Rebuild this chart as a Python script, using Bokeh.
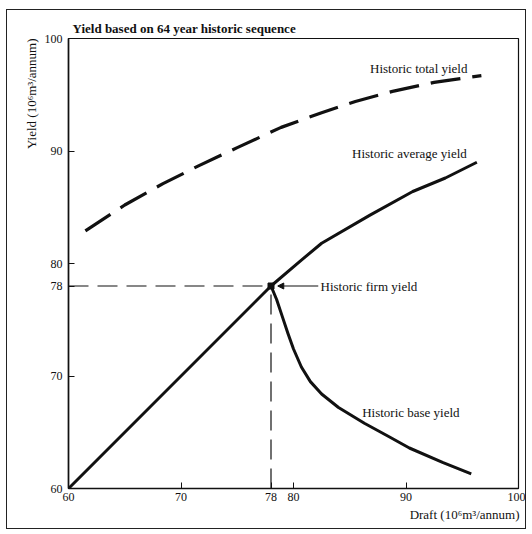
from bokeh.plotting import figure
from bokeh.models import Range1d, FixedTicker, Label, Arrow, NormalHead, Title
from bokeh.embed import file_html
from bokeh.resources import INLINE

# ---- data ----
draft_total = [61.5, 65.0, 68.4, 71.6, 75.0, 78.9, 82.5, 85.5, 88.8, 92.5, 96.7]
yield_total = [82.9, 85.2, 87.1, 88.7, 90.3, 92.1, 93.4, 94.4, 95.3, 96.1, 96.7]

draft_avg = [60.0, 78.0, 80.7, 82.5, 86.8, 90.6, 93.5, 96.3]
yield_avg = [60.0, 78.0, 80.3, 81.8, 84.3, 86.4, 87.6, 89.0]

draft_base = [78.0, 78.5, 79.0, 79.5, 80.0, 80.7, 81.5, 82.5, 84.0, 86.3, 88.5, 90.3, 93.3, 95.8]
yield_base = [78.0, 76.8, 75.3, 73.8, 72.4, 70.8, 69.5, 68.4, 67.2, 65.8, 64.6, 63.6, 62.3, 61.3]

firm_draft = 78.0
firm_yield = 78.0

x_ticks = [60, 70, 78, 80, 90, 100]
y_ticks = [60, 70, 78, 80, 90, 100]

FONT = "Liberation Serif"
INK = "#111"

p = figure(width=520, height=520, output_backend="svg", toolbar_location=None,
           x_range=Range1d(60, 100), y_range=Range1d(60, 100),
           min_border_left=61, min_border_right=9, min_border_top=28, min_border_bottom=42)
p.styles = {"border": "1px solid #222", "margin-left": "6px", "margin-top": "9px"}
p.grid.visible = False
p.outline_line_color = INK
p.outline_line_width = 1.2
p.background_fill_color = "white"
p.border_fill_color = "white"

p.title.text = "Yield based on 64 year historic sequence"
p.title.align = "left"
p.title.offset = 4
p.title.text_font = FONT
p.title.text_font_size = "13px"
p.title.text_font_style = "bold"
p.title.text_color = INK
p.title.standoff = 5

for ax in (p.xaxis[0], p.yaxis[0]):
    ax.axis_line_width = 1.6
    ax.axis_line_color = INK
    ax.major_tick_in = 6
    ax.major_tick_out = 0
    ax.minor_tick_line_color = None
    ax.major_label_text_font = FONT
    ax.major_label_text_font_size = "12px"
    ax.major_label_text_color = INK
    ax.major_tick_line_color = INK
p.xaxis.ticker = FixedTicker(ticks=x_ticks)
p.yaxis.ticker = FixedTicker(ticks=y_ticks)
p.xaxis.major_label_standoff = 4
p.yaxis.major_label_standoff = 6

p.add_layout(Title(text="Draft (10\u2076m\u00b3/annum)", align="right", offset=-1,
                   text_font=FONT, text_font_size="13px", text_font_style="normal",
                   text_color=INK, standoff=2), "below")
p.add_layout(Title(text="Yield (10\u2076m\u00b3/annum)", align="right",
                   text_font=FONT, text_font_size="13px", text_font_style="normal",
                   text_color=INK, standoff=6), "left")

# firm-yield guide lines
p.line([60, firm_draft], [firm_yield, firm_yield], line_color=INK, line_width=1.2, line_dash="20 9")
p.line([firm_draft, firm_draft], [60, firm_yield], line_color=INK, line_width=1.2, line_dash="20 9")

# curves
p.line(draft_total, yield_total, line_color=INK, line_width=3.2, line_dash="30 12")
p.line(draft_avg, yield_avg, line_color=INK, line_width=3)
p.line(draft_base, yield_base, line_color=INK, line_width=3, line_join="round")
p.scatter([firm_draft], [firm_yield], marker="square", size=6, color=INK)

p.add_layout(Arrow(end=NormalHead(size=6, fill_color=INK, line_color=INK),
                   x_start=82.2, y_start=firm_yield, x_end=78.6, y_end=firm_yield,
                   line_color=INK, line_width=1.2))

def lab(x, y, t, **kw):
    d = dict(text_font=FONT, text_font_size="13px", text_color=INK,
             text_baseline="middle")
    d.update(kw)
    p.add_layout(Label(x=x, y=y, text=t, **d))

lab(86.8, 97.3, "Historic total yield")
lab(85.2, 89.8, "Historic average yield")
lab(82.4, 78.0, "Historic firm yield")
lab(86.1, 66.8, "Historic base yield")

open("out.html", "w").write(file_html(p, INLINE))
